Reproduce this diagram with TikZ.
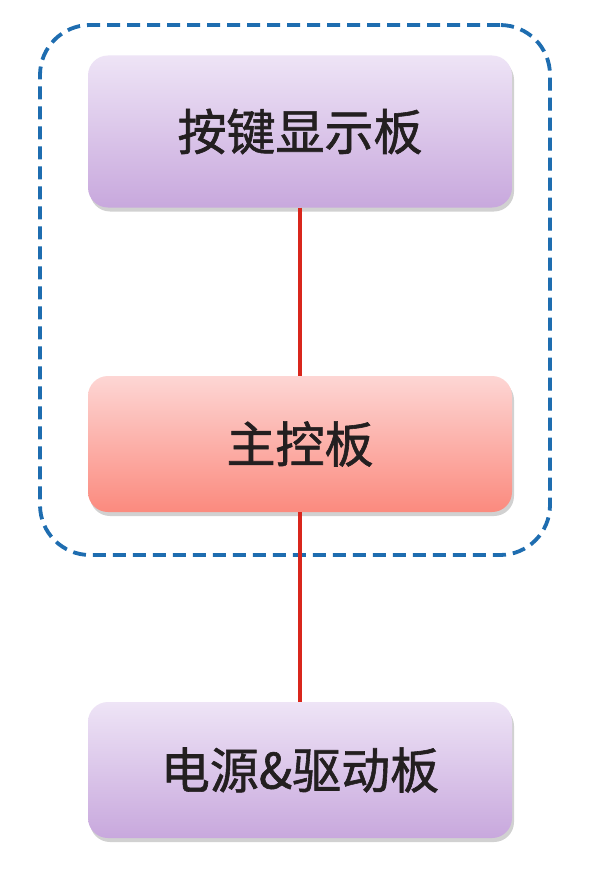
\documentclass[tikz,border=0pt]{standalone}
\usepackage{fontspec}
\newfontfamily\cjk{Noto Sans CJK SC}[FakeBold=1.2]
\usetikzlibrary{shadows}
\definecolor{grpblue}{HTML}{1E6DB0}
\definecolor{linkred}{HTML}{D9261C}
\definecolor{purtop}{HTML}{EEE4F6}
\definecolor{purbot}{HTML}{C8A8DD}
\definecolor{redtop}{HTML}{FDD6D4}
\definecolor{redbot}{HTML}{FB8A7E}
\definecolor{txt}{HTML}{231F20}
\tikzset{
  board/.style={rounded corners=20pt, minimum width=424pt, inner sep=0pt,
    font=\cjk\fontsize{49}{58}\selectfont, text=txt,
    drop shadow={shadow xshift=2pt, shadow yshift=-4pt, opacity=0.18, fill=black}},
  purple board/.style={board, top color=purtop, bottom color=purbot},
  red board/.style={board, top color=redtop, bottom color=redbot},
  group/.style={draw=grpblue, line width=3.8pt, dash pattern=on 13pt off 7pt,
    rounded corners=50pt, minimum width=510pt, minimum height=530pt, inner sep=0pt},
  link/.style={draw=linkred, line width=4.5pt}
}
\begin{document}
\begin{tikzpicture}[x=1pt,y=-1pt]
\useasboundingbox (0,0) rectangle (600,880);
\fill[white] (0,0) rectangle (600,880);
\node[group] (grp) at (295,290) {};
\node[purple board, minimum height=152pt] (key) at (300,131.5) {按键显示板};
\node[red board, minimum height=136pt] (main) at (300,444) {主控板};
\node[purple board, minimum height=136pt] (pwr) at (300,770) {电源\&驱动板};
\draw[link] (key.south) -- (main.north);
\draw[link] (main.south) -- (pwr.north);
\end{tikzpicture}
\end{document}
